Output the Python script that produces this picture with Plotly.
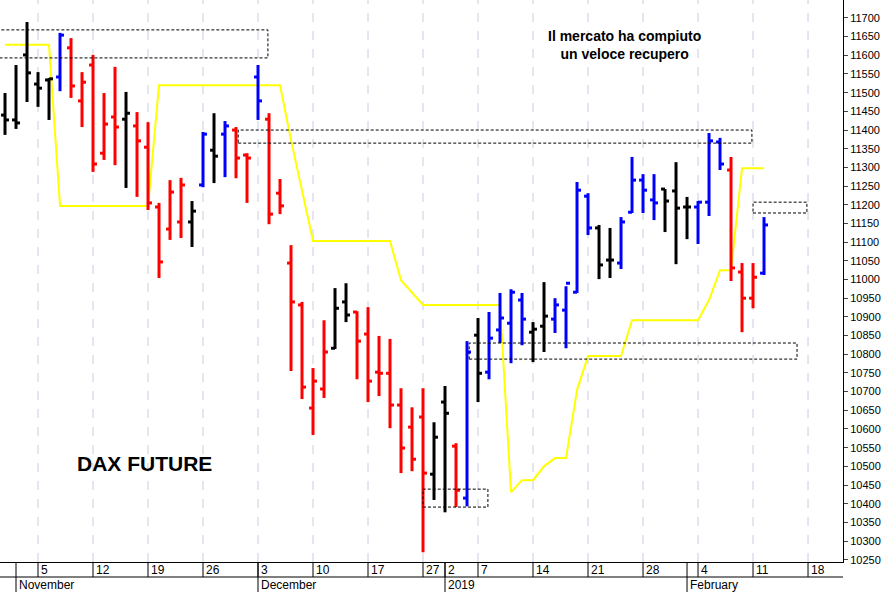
import plotly.graph_objects as go

# OHLC per trading day index (0 = Oct 31 2018)
opens  = [11440,11427,11601,11523,11534,11542,11620,11478,11574,11338,11435,11429,11411,11354,11194,11135,11154,11154,11253,11346,
          11389,11400,11333,11542,11429,11231,11044,10932,10656,10707,10816,10940,10913,10854,10752,10749,10664,10605,10632,10479,
          10672,10554,10415,10851,10752,10865,10883,10945,10859,10875,10894,10918,10966,11223,11138,11052,11044,11180,11266,11213,
          11242,11237,11194,11194,11207,11368,11293,11020,10950,11017]
highs  = [11499,11574,11689,11555,11539,11660,11646,11555,11601,11499,11569,11502,11448,11421,11205,11266,11272,11210,11395,11445,
          11424,11408,11338,11574,11445,11269,11092,10940,10763,10891,10977,10990,10915,10926,10849,10841,10709,10658,10709,10618,
          10715,10562,10835,10897,10913,10964,10974,10964,10886,10993,10950,10982,11261,11231,11146,11138,11167,11328,11282,11282,
          11242,11314,11221,11210,11392,11379,11328,11044,11044,11167]
lows   = [11387,11403,11475,11462,11427,11504,11486,11408,11288,11320,11306,11245,11221,11186,11004,11106,11111,11087,11247,11258,
          11274,11271,11205,11427,11148,11175,10755,10680,10584,10683,10814,10886,10733,10672,10688,10602,10482,10487,10270,10410,
          10377,10391,10393,10672,10733,10830,10776,10824,10779,10806,10857,10816,10964,11119,11001,11004,11028,11178,11178,11159,
          11127,11041,11108,11095,11170,11293,10996,10859,10923,11012]
closes = [11427,11419,11553,11512,11537,11654,11518,11528,11309,11416,11408,11445,11371,11205,11047,11234,11253,11183,11389,11330,
          11411,11325,11325,11478,11175,11197,10940,10712,10728,10806,10923,10905,10835,10728,10749,10664,10549,10519,10482,10578,
          10642,10436,10806,10749,10843,10897,10966,10894,10867,10902,10932,10990,11239,11138,11039,11052,11154,11266,11239,11205,
          11210,11191,11194,11207,11371,11309,11031,10950,11006,11146]
colors = (["k"]*5 + ["b"] + ["r"]*5 + ["k"] + ["r"]*5 + ["k","b","k","b","r","r","b"] + ["r"]*6 + ["k","k"] + ["r"]*7 +
          ["k","k","r","b","k"] + ["b"]*4 + ["k","k"] + ["b"]*4 + ["k","k"] + ["b"]*4 + ["k"]*3 + ["b"]*3 + ["r"]*3 + ["b"])
yellow = ([11628]*5 + [11197]*9 + [11520]*12 + [11373,11239] + [11103]*8 + [10998,10964] + [10932]*8 +
          [10431,10463,10463,10500,10522,10522,10704] + [10795]*4 + [10891]*7 + [10945,11025,11025] + [11298]*3)

week_idx    = [3,8,13,18,23,28,33,38,40,43,48,53,58,63,68,73]
week_labels = ["5","12","19","26","3","10","17","27","2","7","14","21","28","4","11","18"]
grid_idx    = [3,8,13,18,23,28,33,38,43,48,53,58,63,68,73]
month_idx    = [1,23,40,62]
month_labels = ["November","December","2019","February"]

# dashed zones: (x0, x1, y0, y1)
zones = [(-0.5,23.9,11593,11668),(21.2,67.9,11365,11400),(38,43.9,10391,10439),(42.2,72,10787,10830),(68,72.9,11178,11207)]

cmap = {"k":"#000000","b":"#0000ff","r":"#ff0000"}
fig = go.Figure()
fig.add_trace(go.Scatter(x=list(range(len(yellow))), y=yellow, mode="lines",
                         line=dict(color="#ffff00", width=2), hoverinfo="skip"))
tw = 0.36
for c in ["k","b","r"]:
    xs, ys = [], []
    for i in range(len(opens)):
        if colors[i] != c:
            continue
        xs += [i, i, None, i - tw, i, None, i, i + tw, None]
        ys += [lows[i], highs[i], None, opens[i], opens[i], None, closes[i], closes[i], None]
    fig.add_trace(go.Scatter(x=xs, y=ys, mode="lines", line=dict(color=cmap[c], width=3), hoverinfo="skip"))

shapes = []
for g in grid_idx:
    shapes.append(dict(type="line", xref="x", yref="paper", x0=g, x1=g, y0=0, y1=1,
                       line=dict(color="#c8cce0", width=1, dash="dash"), layer="below"))
for x0, x1, y0, y1 in zones:
    shapes.append(dict(type="rect", xref="x", yref="y", x0=x0, x1=x1, y0=y0, y1=y1,
                       line=dict(color="black", width=1, dash="3px,2px")))
bh = 30/562
shapes.append(dict(type="line", xref="paper", yref="paper", x0=0, x1=1, y0=-bh/2, y1=-bh/2, line=dict(color="black", width=1)))
for g in week_idx:
    shapes.append(dict(type="line", xref="x", yref="paper", x0=g, x1=g, y0=0, y1=-bh/2, line=dict(color="black", width=1)))
for g in month_idx:
    shapes.append(dict(type="line", xref="x", yref="paper", x0=g, x1=g, y0=0, y1=-bh, line=dict(color="black", width=1)))

ann = []
for g, t in zip(week_idx, week_labels):
    ann.append(dict(x=g, y=-bh/4, xref="x", yref="paper", text=t, showarrow=False, xanchor="left", yanchor="middle",
                    xshift=1, font=dict(size=12, color="black", family="Arial")))
for g, t in zip(month_idx, month_labels):
    ann.append(dict(x=g, y=-bh*0.76, xref="x", yref="paper", text=t, showarrow=False, xanchor="left", yanchor="middle",
                    xshift=1, font=dict(size=12, color="black", family="Arial")))
ann.append(dict(x=0.172, y=0.176, xref="paper", yref="paper", text="<b>DAX FUTURE</b>", showarrow=False,
                xanchor="center", yanchor="middle", font=dict(size=21, color="black", family="Arial")))
ann.append(dict(x=0.741, y=0.92, xref="paper", yref="paper", text="<b>Il mercato ha compiuto<br>un veloce recupero</b>",
                showarrow=False, xanchor="center", yanchor="middle", font=dict(size=14, color="black", family="Arial")))

fig.update_layout(width=896, height=592, margin=dict(l=0, r=53, t=0, b=30, autoexpand=False), plot_bgcolor="white",
                  paper_bgcolor="white", showlegend=False, shapes=shapes, annotations=ann,
                  xaxis=dict(range=[-0.455, 76.18], showticklabels=False, showgrid=False, zeroline=False, automargin=False,
                             showline=True, linecolor="black", mirror=True),
                  yaxis=dict(range=[10244, 11748], side="right", dtick=50, tick0=10300, showgrid=False, zeroline=False,
                             tickformat="d", automargin=False,
                             ticks="outside", ticklen=4, showline=True, linecolor="black", mirror=True,
                             tickfont=dict(size=11, color="black", family="Arial")))
fig.write_html("out.html", config={"displayModeBar": False})

# remove the default page margin so the figure fills the window exactly
with open("out.html", encoding="utf-8") as f:
    html = f.read()
html = html.replace("<body>", '<body style="margin:0;overflow:hidden">', 1)
with open("out.html", "w", encoding="utf-8") as f:
    f.write(html)
